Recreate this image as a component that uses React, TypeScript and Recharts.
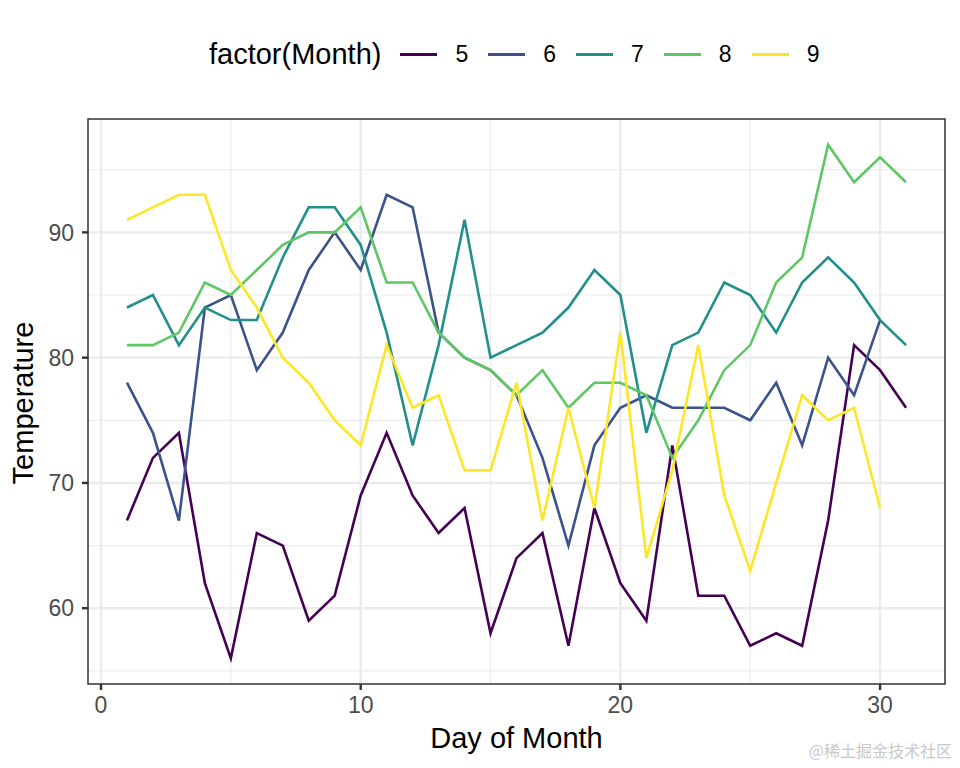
import React from "react";
import { LineChart, Line, XAxis, YAxis, CartesianGrid, ReferenceArea } from "recharts";

document.body.style.margin = "0";

const days = Array.from({ length: 31 }, (_, i) => i + 1);

const may = [67, 72, 74, 62, 56, 66, 65, 59, 61, 69, 74, 69, 66, 68, 58, 64, 66, 57, 68, 62, 59, 73, 61, 61, 57, 58, 57, 67, 81, 79, 76];
const june = [78, 74, 67, 84, 85, 79, 82, 87, 90, 87, 93, 92, 82, 80, 79, 77, 72, 65, 73, 76, 77, 76, 76, 76, 75, 78, 73, 80, 77, 83];
const july = [84, 85, 81, 84, 83, 83, 88, 92, 92, 89, 82, 73, 81, 91, 80, 81, 82, 84, 87, 85, 74, 81, 82, 86, 85, 82, 86, 88, 86, 83, 81];
const august = [81, 81, 82, 86, 85, 87, 89, 90, 90, 92, 86, 86, 82, 80, 79, 77, 79, 76, 78, 78, 77, 72, 75, 79, 81, 86, 88, 97, 94, 96, 94];
const september = [91, 92, 93, 93, 87, 84, 80, 78, 75, 73, 81, 76, 77, 71, 71, 78, 67, 76, 68, 82, 64, 71, 81, 69, 63, 70, 77, 75, 76, 68];

const months = ["5", "6", "7", "8", "9"];
const monthValues = [may, june, july, august, september];
const colors = ["#440154", "#3B528B", "#21908C", "#5DC863", "#FDE725"];

const xTicks = [0, 10, 20, 30];
const xMinor = [5, 15, 25];
const yTicks = [60, 70, 80, 90];
const yMinor = [55, 65, 75, 85, 95];

const xDomain = [-0.5, 32.5];
const yDomain = [53.95, 99.05];

const data = days.map((d, i) => {
  const row: Record<string, number | undefined> = { day: d };
  months.forEach((m, k) => {
    row[m] = monthValues[k][i];
  });
  return row;
});

const font = "'Liberation Sans', Arial, sans-serif";

function Legend() {
  return (
    <div
      style={{
        position: "absolute",
        left: 209,
        top: 34,
        height: 40,
        display: "flex",
        alignItems: "center",
        fontFamily: font,
        color: "#000",
      }}
    >
      <span style={{ fontSize: 29, marginRight: 19 }}>factor(Month)</span>
      {months.map((m, i) => (
        <div key={m} style={{ display: "flex", alignItems: "center", marginRight: 20 }}>
          <div style={{ width: 37, height: 3, background: colors[i], marginRight: 18 }} />
          <span style={{ fontSize: 23 }}>{m}</span>
        </div>
      ))}
    </div>
  );
}

export default function App() {
  return (
    <div style={{ position: "relative", width: 960, height: 768, background: "#fff", fontFamily: font }}>
      <Legend />
      <LineChart width={960} height={768} data={data} margin={{ top: 119, right: 15, bottom: 44, left: 0 }}>
        <CartesianGrid stroke="#EBEBEB" strokeWidth={1.2} verticalValues={xMinor} horizontalValues={yMinor} />
        <CartesianGrid stroke="#EBEBEB" strokeWidth={2.4} verticalValues={xTicks} horizontalValues={yTicks} />
        <XAxis
          dataKey="day"
          type="number"
          domain={xDomain}
          ticks={xTicks}
          allowDataOverflow
          height={40}
          tickSize={6}
          tickMargin={7}
          axisLine={false}
          tickLine={{ stroke: "#333333", strokeWidth: 2.4 }}
          tick={{ fontSize: 23, fill: "#4D4D4D", fontFamily: font }}
          label={{ value: "Day of Month", position: "bottom", offset: 3, fontSize: 29, fill: "#000", fontFamily: font }}
        />
        <YAxis
          type="number"
          domain={yDomain}
          ticks={yTicks}
          allowDataOverflow
          width={88}
          tickSize={6}
          tickMargin={8}
          axisLine={false}
          tickLine={{ stroke: "#333333", strokeWidth: 2.4 }}
          tick={{ fontSize: 23, fill: "#4D4D4D", fontFamily: font }}
          label={{
            content: () => (
              <text
                x={23}
                y={403}
                transform="rotate(-90, 23, 403)"
                textAnchor="middle"
                dominantBaseline="central"
                fontSize={29}
                fontFamily={font}
                fill="#000"
              >
                Temperature
              </text>
            ),
          }}
        />
        {months.map((m, i) => (
          <Line
            key={m}
            type="linear"
            dataKey={m}
            stroke={colors[i]}
            strokeWidth={2.6}
            dot={false}
            activeDot={false}
            isAnimationActive={false}
          />
        ))}
        <ReferenceArea
          x1={xDomain[0]}
          x2={xDomain[1]}
          y1={yDomain[0]}
          y2={yDomain[1]}
          fill="none"
          fillOpacity={0}
          stroke="#333333"
          strokeWidth={1.5}
          ifOverflow="visible"
        />
      </LineChart>
      <div
        style={{
          position: "absolute",
          right: 8,
          top: 738,
          fontSize: 16,
          color: "#C8C8C8",
          fontFamily: "'Noto Sans CJK SC', sans-serif",
        }}
      >
        @稀土掘金技术社区
      </div>
    </div>
  );
}
